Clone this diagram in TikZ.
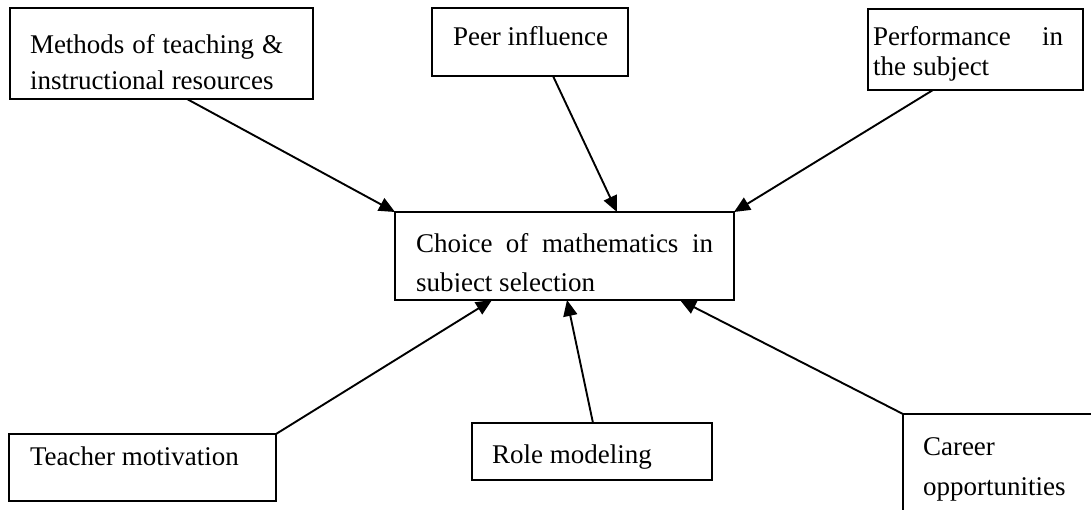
\documentclass[tikz,border=0pt]{standalone}
\usepackage{fontspec}
\setmainfont{Liberation Serif}
\usetikzlibrary{arrows.meta,calc}
\begin{document}
\begin{tikzpicture}[x=1pt,y=-1pt,
  box/.style={draw=black,line width=2.2pt,rectangle,inner sep=0pt,outer sep=0pt,anchor=north west},
  lbl/.style={inner sep=0pt,outer sep=0pt,anchor=base west,font=\fontsize{27}{32}\selectfont},
  conn/.style={line width=1.9pt,-{Triangle[length=16pt,width=14pt]}}]
\useasboundingbox (0,0) rectangle (1091,509);
\clip (0,0) rectangle (1091,509);
\fill[white] (0,0) rectangle (1091,509);
% boxes
\node[box,minimum width=303pt,minimum height=91pt] (meth) at (10,8) {};
\node[box,minimum width=196pt,minimum height=68pt] (peer) at (432,8) {};
\node[box,minimum width=215pt,minimum height=81pt] (perf) at (868,9) {};
\node[box,minimum width=339pt,minimum height=88pt] (choice) at (395,212) {};
\node[box,minimum width=267pt,minimum height=67pt] (teach) at (9,434) {};
\node[box,minimum width=240pt,minimum height=57pt] (role) at (472,423) {};
\node[box,minimum width=260pt,minimum height=150pt] (career) at (903,414) {};
% texts
\node[lbl] (methA) at (30,53) {\makebox[253pt][s]{Methods of teaching \&}};
\node[lbl] (methB) at (30,89) {instructional resources};
\node[lbl] (peerT) at (453,45) {Peer influence};
\node[lbl] (perfA) at (873,45) {\makebox[190pt][s]{Performance in}};
\node[lbl] (perfB) at (873,75) {the subject};
\node[lbl] (choiceA) at (416,252) {\makebox[297pt][s]{Choice of mathematics in}};
\begin{scope}
\clip (395,212) rectangle (734,291);
\node[lbl] (choiceB) at (416,291.5) {subject selection};
\end{scope}
\node[lbl] (teachT) at (30,465) {Teacher motivation};
\node[lbl] (roleT) at (492,463) {Role modeling};
\node[lbl] (carA) at (923,455) {Career};
\node[lbl] (carB) at (923,495) {opportunities};
% connectors
\draw[conn] ($(meth.south west)+(177,0)$) -- (choice.north west);
\draw[conn] ($(peer.south west)+(121,0)$) -- ($(choice.north west)+(222,0)$);
\draw[conn] ($(perf.south west)+(65,0)$) -- (choice.north east);
\draw[conn] (teach.north east) -- ($(choice.south west)+(97,0)$);
\draw[conn] ($(role.north west)+(121,0)$) -- ($(choice.south west)+(172,0)$);
\draw[conn] (career.north west) -- ($(choice.south west)+(285,0)$);
\end{tikzpicture}
\end{document}
